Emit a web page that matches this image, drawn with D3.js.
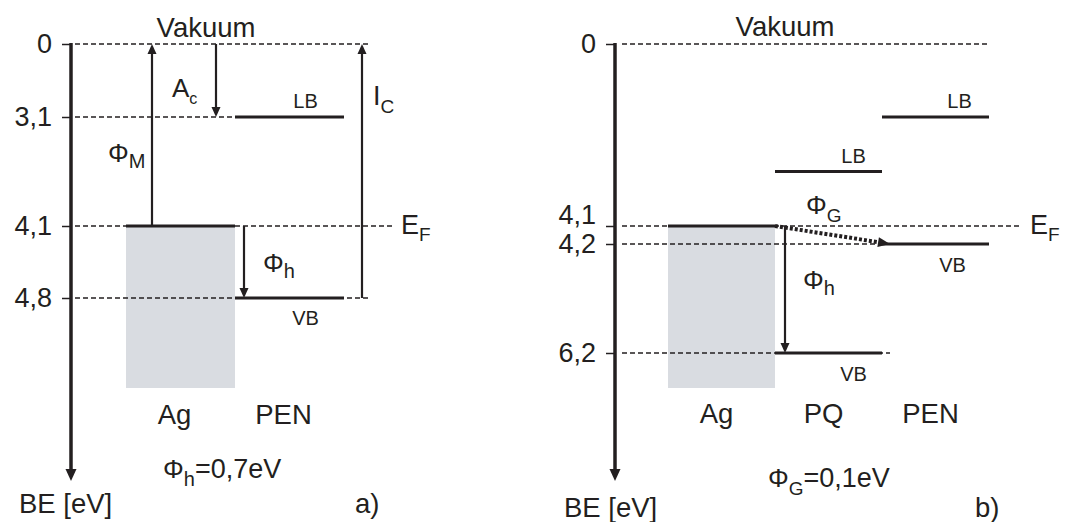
<!DOCTYPE html>
<html><head><meta charset="utf-8">
<script src="https://cdn.jsdelivr.net/npm/d3@7"></script>
<style>
body{margin:0;background:#fff}
svg text{font-family:"Liberation Sans",Arial,Helvetica,sans-serif;fill:#231f20}
</style></head>
<body><svg id="chart" width="1073" height="522"></svg>
<script>
// ---------- data ----------
// panel a)
const ticksA = [0, 3.1, 4.1, 4.8];
const tickLabelsA = ["0", "3,1", "4,1", "4,8"];
const materialsA = ["Ag", "PEN"];
const levelsA = [
  {mat: "PEN", value: 3.1, label: "LB"},
  {mat: "PEN", value: 4.8, label: "VB"}
];
const fermiA = 4.1;
const agBottomA = 5.7;
// panel b)
const ticksB = [0, 4.1, 4.2, 6.2];
const tickLabelsB = ["0", "4,1", "4,2", "6,2"];
const materialsB = ["Ag", "PQ", "PEN"];
const levelsB = [
  {mat: "PQ", value: 3.6, label: "LB"},
  {mat: "PQ", value: 6.2, label: "VB"},
  {mat: "PEN", value: 3.1, label: "LB"},
  {mat: "PEN", value: 4.2, label: "VB"}
];
const fermiB = 4.1;
const agBottomB = 6.85;

// ---------- drawing ----------
const INK = "#231f20";
const svg = d3.select("#chart");

function hline(g, x0, x1, y, dashed, w) {
  g.append("line").attr("x1", x0).attr("x2", x1).attr("y1", y).attr("y2", y)
    .attr("stroke", INK).attr("stroke-width", w || (dashed ? 1.7 : 3.2))
    .attr("stroke-dasharray", dashed ? "5,3" : null);
}
function head(g, x, y, dir, w, h) {
  w = w || 9; h = h || 10;
  let p;
  if (dir === "up") p = [[x, y], [x - w / 2, y + h], [x + w / 2, y + h]];
  else if (dir === "down") p = [[x, y], [x - w / 2, y - h], [x + w / 2, y - h]];
  else p = [[x, y], [x - h, y - w / 2], [x - h, y + w / 2]];
  g.append("path").attr("d", d3.line()(p) + "Z").attr("fill", INK);
}
function varrow(g, x, yFrom, yTo) {
  const dir = yTo < yFrom ? "up" : "down";
  const end = dir === "up" ? yTo + 9 : yTo - 9;
  g.append("line").attr("x1", x).attr("x2", x).attr("y1", yFrom).attr("y2", end)
    .attr("stroke", INK).attr("stroke-width", 2.2);
  head(g, x, yTo, dir);
}
function txt(g, x, y, s, size, anchor) {
  return g.append("text").attr("x", x).attr("y", y).attr("font-size", size)
    .attr("text-anchor", anchor || "start").text(s);
}
function subTxt(g, x, y, main, sub, rest, mSize, sSize, sDy) {
  const t = g.append("text").attr("x", x).attr("y", y);
  t.append("tspan").attr("font-size", mSize).text(main);
  t.append("tspan").attr("font-size", sSize).attr("dy", sDy).text(sub);
  if (rest) t.append("tspan").attr("font-size", 27).attr("dy", -sDy).text(rest);
  return t;
}
function axis(g, x, y, ticks, labels) {
  const ax = g.append("g").attr("transform", `translate(${x},0)`)
    .call(d3.axisLeft(y).tickValues(ticks).tickFormat((d, i) => labels[i])
      .tickSize(9).tickPadding(10));
  ax.select(".domain").remove();
  ax.selectAll(".tick line").attr("stroke", INK).attr("stroke-width", 1.5);
  ax.selectAll(".tick text").attr("font-size", 27).attr("fill", INK)
    .attr("font-family", '"Liberation Sans",Arial,sans-serif');
  g.append("line").attr("x1", x).attr("x2", x).attr("y1", y(0) - 1).attr("y2", 470)
    .attr("stroke", INK).attr("stroke-width", 3.5);
  head(g, x, 481, "down", 11, 12);
  return ax;
}

// ===== panel a =====
const yA = d3.scaleLinear().domain([...ticksA, agBottomA]).range([44, 117, 226, 298, 388]);
const xA = d3.scaleBand().domain(materialsA).range([126, 344]);
const gA = svg.append("g");
const axA = 71;
gA.append("rect").attr("x", xA("Ag")).attr("y", yA(fermiA))
  .attr("width", xA.bandwidth()).attr("height", yA(agBottomA) - yA(fermiA)).attr("fill", "#d9dce1");
hline(gA, 75, 370, yA(0), true);
hline(gA, 75, xA("PEN"), yA(3.1), true);
hline(gA, 75, 395, yA(fermiA), true);
hline(gA, 75, 370, yA(4.8), true);
hline(gA, xA("Ag"), xA("Ag") + xA.bandwidth(), yA(fermiA), false);
levelsA.forEach(l => hline(gA, xA(l.mat), xA(l.mat) + xA.bandwidth(), yA(l.value), false));
axis(gA, axA, yA, ticksA, tickLabelsA);
varrow(gA, 152, yA(fermiA), yA(0));
varrow(gA, 216, yA(0), yA(3.1));
varrow(gA, 362, yA(4.8), yA(0));
varrow(gA, 244, yA(fermiA), yA(4.8));
levelsA.forEach(l => {
  const cx = xA(l.mat) + xA.bandwidth() / 2 + 16;
  txt(gA, cx, l.label === "LB" ? yA(l.value) - 9 : yA(l.value) + 27, l.label, 20, "middle");
});
txt(gA, 206, 37, "Vakuum", 27.5, "middle");
subTxt(gA, 172, 97, "A", "c", null, 26, 16, 7);
subTxt(gA, 108, 162, "\u03A6", "M", null, 26, 20, 6);
subTxt(gA, 373, 105, "I", "C", null, 27, 19, 8);
subTxt(gA, 401, 234, "E", "F", null, 27, 19, 7);
subTxt(gA, 263, 272, "\u03A6", "h", null, 26, 20, 6);
materialsA.forEach(m => txt(gA, xA(m) + xA.bandwidth() / 2 - 6, 424, m, 27.5, "middle"));
subTxt(gA, 163, 478, "\u03A6", "h", "=0,7eV", 26, 20, 8);
txt(gA, 19, 513, "BE [eV]", 27.5);
txt(gA, 355, 513, "a)", 27.5);

// ===== panel b =====
const yB = d3.scaleLinear().domain([0, 3.1, 4.1, 4.2, 6.2, agBottomB]).range([44, 117, 226, 244, 353, 388]);
const xB = d3.scaleBand().domain(materialsB).range([668, 989]);
const gB = svg.append("g");
const axB = 615;
gB.append("rect").attr("x", xB("Ag")).attr("y", yB(fermiB))
  .attr("width", xB.bandwidth()).attr("height", yB(agBottomB) - yB(fermiB)).attr("fill", "#d9dce1");
hline(gB, 622, 990, yB(0), true);
hline(gB, 622, 1020, yB(fermiB), true);
hline(gB, 622, xB("PEN"), yB(4.2), true);
hline(gB, 622, 890, yB(6.2), true);
hline(gB, xB("Ag"), xB("Ag") + xB.bandwidth(), yB(fermiB), false);
levelsB.forEach(l => hline(gB, xB(l.mat), xB(l.mat) + xB.bandwidth(), yB(l.value), false));
const axb = axis(gB, axB, yB, ticksB, tickLabelsB);
axb.selectAll(".tick text").filter((d) => d === 4.1).attr("dy", "-0.08em");
varrow(gB, 785, yB(fermiB), yB(6.2));
// dotted Phi_G arrow
const gx0 = xB("PQ"), gy0 = yB(fermiB), gx1 = xB("PEN") + 8, gy1 = yB(4.2);
const ang = Math.atan2(gy1 - gy0, gx1 - gx0);
gB.append("line").attr("x1", gx0).attr("y1", gy0)
  .attr("x2", gx1 - 9 * Math.cos(ang)).attr("y2", gy1 - 9 * Math.sin(ang))
  .attr("stroke", INK).attr("stroke-width", 4).attr("stroke-dasharray", "3,2");
gB.append("path")
  .attr("d", d3.line()([[0, 0], [-12, -5], [-12, 5]]) + "Z")
  .attr("transform", `translate(${gx1},${gy1}) rotate(${ang * 180 / Math.PI})`)
  .attr("fill", INK);
levelsB.forEach(l => {
  const off = l.mat === "PQ" ? 25 : (l.label === "LB" ? 24 : 17);
  const cx = xB(l.mat) + xB.bandwidth() / 2 + off;
  txt(gB, cx, l.label === "LB" ? yB(l.value) - 9 : yB(l.value) + 28, l.label, 20, "middle");
});
txt(gB, 785, 36, "Vakuum", 27.5, "middle");
subTxt(gB, 806, 214, "\u03A6", "G", null, 26, 19, 8);
subTxt(gB, 803, 289, "\u03A6", "h", null, 26, 20, 6);
subTxt(gB, 1030, 234, "E", "F", null, 27, 19, 7);
materialsB.forEach(m => txt(gB, xB(m) + xB.bandwidth() / 2 - 5, 423, m, 27.5, "middle"));
subTxt(gB, 768, 487, "\u03A6", "G", "=0,1eV", 26, 19, 8);
txt(gB, 564, 517, "BE [eV]", 27.5);
txt(gB, 975, 517, "b)", 27.5);
</script>
</body></html>
